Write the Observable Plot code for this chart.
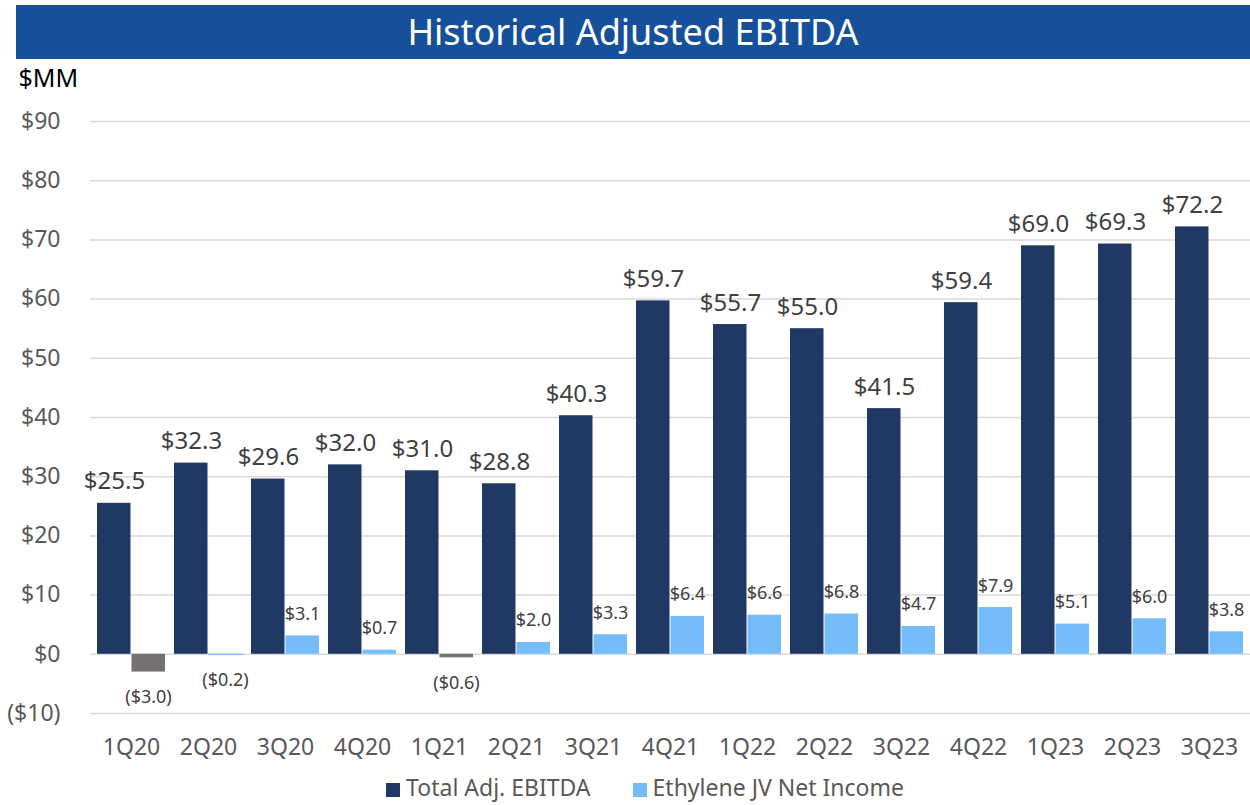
<!DOCTYPE html>
<html><head><meta charset="utf-8">
<script src="https://cdn.jsdelivr.net/npm/d3@7"></script>
<script src="https://cdn.jsdelivr.net/npm/@observablehq/plot@0.6"></script>
<style>
body{margin:0;background:#fff;font-family:"Noto Sans",sans-serif;}
#wrap{position:relative;width:1250px;height:805px;overflow:hidden;}
#title{position:absolute;left:16px;top:5px;width:1234px;height:54px;background:#17509A;color:#fff;font-size:36px;line-height:54px;text-align:center;}
#chart{position:absolute;left:0;top:58px;}
#legend{position:absolute;top:775px;left:0;width:1290px;display:flex;justify-content:center;gap:42px;font-size:23px;color:#595959;line-height:24px;}
#legend span.sw{display:inline-block;width:14px;height:14px;margin-right:6px;vertical-align:-1px;}
</style>
</head><body>
<div id="wrap">
  <div id="title">Historical Adjusted EBITDA</div>
  <div id="chart"></div>
  <div id="legend"></div>
</div>
<script>
const quarters = ["1Q20","2Q20","3Q20","4Q20","1Q21","2Q21","3Q21","4Q21","1Q22","2Q22","3Q22","4Q22","1Q23","2Q23","3Q23"];
const totalAdjEbitda = [25.5, 32.3, 29.6, 32.0, 31.0, 28.8, 40.3, 59.7, 55.7, 55.0, 41.5, 59.4, 69.0, 69.3, 72.2];
const ethyleneJvNetIncome = [-3.0, -0.2, 3.1, 0.7, -0.6, 2.0, 3.3, 6.4, 6.6, 6.8, 4.7, 7.9, 5.1, 6.0, 3.8];
const yTicks = [-10, 0, 10, 20, 30, 40, 50, 60, 70, 80, 90];
const seriesNames = ["Total Adj. EBITDA", "Ethylene JV Net Income"];

const NAVY = "#203864", LIGHT = "#75BDFA", GREY = "#767171";
const rows = quarters.map((q, i) => ({q, total: totalAdjEbitda[i], jv: ethyleneJvNetIncome[i]}));
const money = v => v < 0 ? `($${Math.abs(v).toFixed(1)})` : `$${v.toFixed(1)}`;
const tickFmt = v => v < 0 ? `($${-v})` : `$${v}`;
const HALF = 34.5;

const chart = Plot.plot({
  width: 1250, height: 710,
  marginLeft: 90, marginRight: 0, marginTop: 63, marginBottom: 55,
  style: {fontFamily: "'Noto Sans', sans-serif", background: "transparent"},
  x: {domain: quarters, paddingInner: 0.12, paddingOuter: 0.06},
  y: {domain: [-10, 90]},
  marks: [
    Plot.ruleY(yTicks, {stroke: "#d9d9d9", strokeWidth: 1.5}),
    Plot.axisY({ticks: yTicks, tickFormat: tickFmt, tickSize: 0, tickPadding: 30, fontSize: 23, color: "#595959", label: null}),
    Plot.axisX({tickSize: 0, tickPadding: 25, fontSize: 23, color: "#595959", label: null}),
    Plot.barY(rows, {x: "q", y: "total", fill: NAVY, insetRight: HALF}),
    Plot.barY(rows, {x: "q", y: "jv", fill: d => d.jv < -0.5 ? GREY : LIGHT, insetLeft: HALF}),
    Plot.text(rows, {x: "q", y: "total", text: d => money(d.total), dx: -17, dy: -14, lineAnchor: "bottom", fontSize: 24, fill: "#404040"}),
    Plot.text(rows.filter(d => d.jv >= 0), {x: "q", y: "jv", text: d => money(d.jv), dx: 17, dy: -16, lineAnchor: "bottom", fontSize: 18, fill: "#404040"}),
    Plot.text(rows.filter(d => d.jv < 0), {x: "q", y: "jv", text: d => money(d.jv), dx: 17, dy: 31, lineAnchor: "bottom", fontSize: 18, fill: "#404040"}),
    Plot.text(["$MM"], {frameAnchor: "top-left", dx: -72, dy: -43, textAnchor: "start", lineAnchor: "middle", fontSize: 25, fill: "#000"})
  ],
  color: {type: "identity"}
});
document.getElementById("chart").appendChild(chart);

const legend = document.getElementById("legend");
[NAVY, LIGHT].forEach((c, i) => {
  const item = document.createElement("div");
  item.innerHTML = `<span class="sw" style="background:${c}"></span>${seriesNames[i]}`;
  legend.appendChild(item);
});
</script>
</body></html>
